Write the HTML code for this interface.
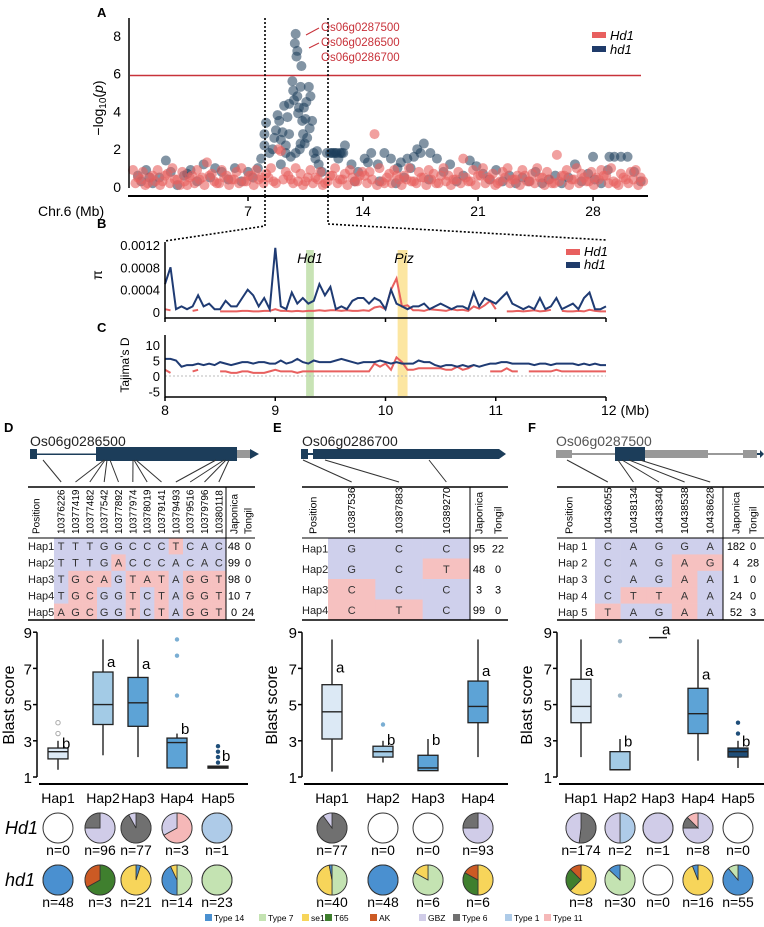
<!DOCTYPE html>
<html><head><meta charset="utf-8"><style>
html,body{margin:0;padding:0;background:#fff;}
svg{display:block;font-family:"Liberation Sans",sans-serif;}
</style></head><body>
<svg id="fig" width="764" height="927" viewBox="0 0 764 927" xmlns="http://www.w3.org/2000/svg"></svg>
<script>
// ---------- DATA ----------
const blueMb=[0.3,0.5,0.8,1.2,1.6,2.0,2.3,2.7,3.1,3.5,3.9,4.3,4.7,5.0,5.4,5.8,6.2,6.6,7.0,7.3,7.6,7.8,8.0,8.0,8.1,8.3,8.5,8.6,8.7,8.8,8.9,9.0,9.1,9.2,9.3,9.4,9.5,9.7,9.75,9.8,9.85,9.9,9.95,10.0,10.0,10.05,10.1,10.15,10.2,10.25,10.3,10.35,10.4,10.5,10.6,10.7,10.8,10.9,11.0,11.1,11.2,11.3,11.5,9.9,9.6,10.2,9.5,11.8,12.1,12.5,12.9,13.3,13.7,14.1,14.5,14.9,15.3,15.7,16.1,16.5,16.9,17.3,17.7,18.1,18.5,18.9,19.3,19.7,20.1,20.5,20.9,21.3,21.7,22.1,22.5,22.9,23.3,23.7,24.1,24.5,24.9,25.3,25.7,26.1,26.5,26.9,27.3,27.7,28.1,28.5,28.9,29.3,29.7,30.1,30.5,30.9,15.0,16.0,18.0,13.5,12.3,12.7,17.5,28.0,29.0,12.0,12.2,12.4,12.6,12.8,14.3,16.3,16.7,17.1,1.0,3.3,9.0,9.3,10.45,10.55,10.75];
const blueLogP=[0.6,0.3,0.9,0.2,0.5,1.4,0.8,0.1,0.6,0.9,0.3,1.2,0.5,1.0,0.8,0.4,1.0,0.3,0.8,0.5,1.0,1.5,2.2,2.8,3.4,1.8,2.0,2.6,3.0,3.8,3.5,2.5,2.9,4.3,1.8,3.7,4.4,5.6,5.1,4.6,7.6,8.1,6.9,7.2,4.8,3.9,4.2,2.0,5.3,6.4,3.5,2.8,4.2,3.6,2.6,5.3,4.8,3.5,1.8,1.5,1.9,1.2,0.8,1.8,1.6,2.3,2.8,1.8,1.8,1.5,2.2,1.2,0.8,1.5,1.8,1.2,1.8,1.5,1.0,0.5,1.0,2.0,2.3,1.8,1.5,0.8,1.2,0.3,0.6,1.4,1.1,0.7,0.4,0.9,0.3,0.6,0.2,0.5,0.3,0.8,0.2,0.4,0.6,0.2,0.5,1.2,0.3,0.7,0.4,0.2,0.9,1.6,1.6,1.6,0.8,0.3,0.3,0.2,0.4,0.3,1.8,1.8,1.8,1.6,1.6,1.8,1.8,1.8,1.8,1.8,1.3,1.3,1.5,1.6,0.5,0.7,1.2,2.2,2.3,4.5,3.1];
const redLogP1=[0.9,0.5,0.8,0.2,0.6,0.9,0.3,0.7,1.0,0.4,0.8,0.1,0.6,0.9,0.5,1.3,0.7,0.2,0.9,0.6,0.4,0.8,1.0,0.3,0.6,0.9,0.5,0.7,1.0,0.2,1.9,0.8,0.4,1.0,0.7,0.3,0.9,0.5,0.8,0.2,0.6,1.0,0.4,0.7,0.9,0.3,0.6,0.6,0.8,2.8,1.0,0.2,0.7,0.9,0.4,0.6,1.0,0.3,0.8,0.5,0.9,0.7,0.2,1.0,0.6,0.4,0.8,1.5,0.3,0.9,0.6,1.0,0.5,0.7,0.2,0.8,1.0,0.4,0.6,0.9,0.3,0.7,1.0,0.5,0.8,0.2,1.7,0.6,0.9,0.4,1.0,0.7,0.3,0.8,0.5,0.9,0.6,1.0,0.2,0.7,0.4,0.8,0.9,0.5];
const redLogP2=[0.2,0.4,0.1,0.5,0.3,0.1,0.6,0.2,0.4,0.1,0.3,0.5,0.2,0.4,0.1,0.6,0.3,0.2,0.5,0.1,0.4,0.2,0.3,0.6,0.1,0.4,0.2,0.5,0.3,2.0,0.4,0.6,0.2,0.3,0.1,0.5,0.2,0.4,0.1,0.3,0.6,0.2,0.4,0.1,0.5,0.3,0.8,0.2,0.4,0.1,0.3,0.5,0.2,0.6,0.1,0.4,0.3,0.2,0.5,0.1,0.4,0.2,0.6,0.3,0.1,0.4,0.2,0.5,0.3,0.1,0.6,0.2,0.4,0.1,0.3,0.5,0.2,0.4,0.1,0.6,0.3,0.2,0.5,0.1,0.4,0.2,0.3,0.6,0.1,0.4,0.2,0.5,0.3,0.1,0.4,0.6,0.2,0.3,0.1,0.5,0.2,0.4,0.1,0.3];
const aTicks=[7,14,21,28];
const aYTicks=[0,2,4,6,8];
const threshold=5.9;

const piBlue=[5,8,0.5,1,0.5,1,3,1,1.5,0.5,0.5,2,1,1,2.5,4,3,1,2.5,0.5,11.5,1,0.5,3.5,1.5,2.5,1.5,2,5,3,4.5,0.5,1,0.5,2,2.5,2.5,1.5,2.5,2,0.5,4,1.5,1,0.5,1,1,1.5,0.5,1,1.5,1,0.5,1,1,0.5,3.5,1,2.5,2,1.5,2.5,3.5,1.5,1,0.5,1,0.5,2.5,0.5,1,2.5,0.5,1,1.5,0.5,2.5,3.5,0.5,0.5,1];
const piRed=[0.5,0.3,null,0.4,null,0.2,0.4,null,null,null,0.1,0.1,0.1,0.1,0.2,0.2,0.1,0.1,0.2,0.2,0.5,0.2,0.2,0.1,0.2,0.1,0.2,0.2,0.3,0.2,0.3,0.3,0.2,0.3,0.2,0.2,0.3,0.2,0.8,1,0.5,4,6,1,1.2,0.3,0.3,0.2,0.5,0.4,0.3,0.2,0.5,0.3,0.4,0.2,1,0.6,1.2,2,0.5,null,0.1,0.1,0.2,0.1,0.2,0.3,0.1,0.2,0.4,null,0.2,0.1,0.1,0.2,0.1,0.4,0.2,0.1,0.1];
const tdBlue=[5.5,5.5,5,3,3.5,3.5,4,3.5,4,3.5,4.5,4,3.5,4,4.5,4.5,4,4.5,4.5,4,4,5,4,4.5,5.5,4.5,4,5,4.5,4.5,4.5,5,5.5,5,4.5,4,4.5,4.5,4.5,5,4.5,4,4.5,4,4,4,5,4.5,4.5,3.5,3,3.5,3.5,3,3.5,3,3.5,3,3.5,4,4,4.5,4.5,4,4,4,4,3.5,4,4,3.5,4,4,4,4,3.5,4,3.5,4,3.5,3.5];
const tdRed=[2,1,null,1.5,null,1.5,2,null,null,null,1.5,1.5,1,1,1.5,1.5,1,1,1,1.5,2,1.5,1.5,1.5,1,1.5,1.5,1.5,1.5,1.5,1.5,1.5,1.5,1.5,1.5,1.5,1.5,1.5,4,3,4,2,6,4.5,2,2,2.5,2.5,2.5,2.5,2.5,2,2,3,2,2.5,3.5,null,null,1.5,1.5,1.5,2.5,1.5,1.5,null,1.5,1.5,1.5,1.5,1.5,2,1.5,1.5,1.5,1.5,1.5,1.5,1.5,1.5,1.5];
const bxTicks=[8,9,10,11,12];
const piTicks=[0,0.0004,0.0008,0.0012];
const tdTicks=[-5,0,5,10];

const dPositions=['10376226','10377419','10377482','10377542','10377892','10377974','10378019','10379141','10379493','10379516','10379796','10380118'];
const dRef='TTTGGCCCACAC';
const dHaps=['TTTGGCCCTCAC','TTTGACCCACAC','TGCAGTATAGGT','TGCGGTCTAGGT','AGCGGTCTAGGT'];
const dJap=[48,99,98,10,0], dTon=[0,0,0,7,24];
const ePositions=['10387536','10387883','10389270'];
const eRef='GCC';
const eHaps=['GCC','GCT','CCC','CTC'];
const eJap=[95,48,3,99], eTon=[22,0,3,0];
const fPositions=['10436055','10438134','10438340','10438538','10438628'];
const fRef='CAGGA';
const fHaps=['CAGGA','CAGAG','CAGAA','CTTAA','TAGAA'];
const fJap=[182,4,1,24,52], fTon=[0,28,0,0,3];

const dQ1=[2.0,3.9,3.8,1.5,1.5], dMed=[2.4,5.0,5.1,2.9,1.55], dQ3=[2.6,6.8,6.5,3.15,1.6], dLo=[1.4,2.2,2.1,1.5,1.5], dHi=[3.0,8.6,8.6,3.4,1.6];
const dOut=[[3.4,4.0],[],[],[5.5,7.7,8.6],[1.8,2.1,2.4,2.7]];
const dLet=['b','a','a','b','b'], dLetV=[2.8,7.3,7.2,3.6,2.1];
const eQ1=[3.1,2.1,1.35,4.0], eMed=[4.6,2.4,1.5,4.9], eQ3=[6.1,2.7,2.2,6.3], eLo=[1.3,1.8,1.35,2.1], eHi=[8.6,3.0,3.1,8.6];
const eOut=[[],[3.9],[],[]];
const eLet=['a','b','b','a'], eLetV=[7.0,3.0,3.0,6.8];
const fQ1=[4.0,1.4,null,3.4,2.1], fMed=[4.9,1.4,null,4.5,2.4], fQ3=[6.4,2.4,null,5.9,2.6], fLo=[2.1,1.4,null,1.9,1.5], fHi=[8.6,3.1,null,8.6,3.0];
const fOut=[[],[5.5,8.5],[],[],[3.4,4.0]];
const fLet=['a','b','a','a','b'], fLetV=[6.8,2.9,9.1,6.6,2.9];
const blastTicks=[1,3,5,7,9];

const dHd1Pie=[[],[['GBZ',0.75],['Type 6',0.25]],[['Type 6',0.92],['GBZ',0.08]],[['Type 11',0.67],['GBZ',0.33]],[['Type 1',1]]];
const dhd1Pie=[[['Type 14',1]],[['T65',0.67],['AK',0.33]],[['Type 14',0.05],['se1',0.95]],[['Type 7',0.5],['Type 14',0.43],['se1',0.07]],[['Type 7',1]]];
const dHd1N=[0,96,77,3,1], dhd1N=[48,3,21,14,23];
const eHd1Pie=[[['Type 6',0.9],['GBZ',0.1]],[],[],[['GBZ',0.75],['Type 6',0.25]]];
const ehd1Pie=[[['Type 7',0.5],['se1',0.47],['Type 14',0.03]],[['Type 14',1]],[['Type 7',0.83],['se1',0.17]],[['se1',0.5],['T65',0.33],['AK',0.17]]];
const eHd1N=[77,0,0,93], ehd1N=[40,48,6,6];
const fHd1Pie=[[['Type 6',0.52],['GBZ',0.48]],[['Type 1',0.5],['GBZ',0.5]],[['GBZ',1]],[['GBZ',0.75],['Type 6',0.125],['Type 11',0.125]],[]];
const fhd1Pie=[[['se1',0.625],['T65',0.25],['AK',0.125]],[['Type 7',0.87],['Type 14',0.13]],[],[['se1',0.94],['Type 14',0.06]],[['Type 14',0.89],['Type 7',0.11]]];
const fHd1N=[174,2,1,8,0], fhd1N=[8,30,0,16,55];
const legendNames=['Type 14','Type 7','se1','T65','AK','GBZ','Type 6','Type 1','Type 11'];

// ---------- HELPERS ----------
const NS='http://www.w3.org/2000/svg';
const svg=document.getElementById('fig');
const COL={'Type 14':'#4a90d0','Type 7':'#c4e3b2','se1':'#f7d55a','T65':'#3f7f2e','AK':'#cc5a24','GBZ':'#d0cce8','Type 6':'#707070','Type 1':'#aecbe8','Type 11':'#f5b8b8'};
const RED='#e8605f', BLUE='#1f3b73', NAVY='#1c3d5a';
function mk(tag,attrs,parent){const e=document.createElementNS(NS,tag);for(const k in attrs)e.setAttribute(k,attrs[k]);(parent||svg).appendChild(e);return e;}
function tx(x,y,s,attrs,parent){const e=mk('text',Object.assign({x:x,y:y},attrs||{}),parent);e.textContent=s;return e;}
let el;

// ---------- PANEL A ----------
const xA=mb=>133+mb*16.43, yA=v=>187-v*18.9;
el=tx(97,17,'A',{'font-size':13,'font-weight':'bold'});


blueMb.forEach((m,i)=>{
  el=mk('circle',{cx:xA(m),cy:yA(blueLogP[i]),r:5,fill:NAVY,'fill-opacity':0.55});
  
  
});
redLogP1.forEach((v,i)=>{
  el=mk('circle',{cx:xA(i*0.3),cy:yA(v),r:5,fill:RED,'fill-opacity':0.6});
  
  
});
redLogP2.forEach((v,i)=>{
  el=mk('circle',{cx:xA(0.15+i*0.3),cy:yA(v),r:5,fill:RED,'fill-opacity':0.6});
  
  
});
el=mk('line',{x1:130,x2:641,y1:yA(threshold),y2:yA(threshold),stroke:'#c8323a','stroke-width':1.5});


el=mk('line',{x1:129,x2:129,y1:18,y2:188,stroke:'#000','stroke-width':1.5});


aYTicks.forEach(t=>{
  el=tx(121,yA(t)+5,String(t),{'font-size':14,'text-anchor':'end'});
  
  
});
el=tx(0,0,'',{'font-size':14,'text-anchor':'middle',transform:'translate(103,108) rotate(-90)'});
el.innerHTML='−log<tspan font-size="10" dy="3">10</tspan><tspan dy="-3">(</tspan><tspan font-style="italic">p</tspan>)';


el=mk('line',{x1:128,x2:648,y1:196,y2:196,stroke:'#000','stroke-width':2});


aTicks.forEach(t=>{
  el=mk('line',{x1:xA(t),x2:xA(t),y1:196,y2:201,stroke:'#000','stroke-width':1.5});
  
  
  el=tx(xA(t),216,String(t),{'font-size':14,'text-anchor':'middle'});
  
  
});
el=tx(38,216,'Chr.6 (Mb)',{'font-size':14});


[265,328].forEach(x=>{
  el=mk('line',{x1:x,x2:x,y1:18,y2:196,stroke:'#000','stroke-width':1.6,'stroke-dasharray':'2,2'});
  
  
});
[['Os06g0287500',31],['Os06g0286500',46],['Os06g0286700',61]].forEach(([g,y])=>{
  el=tx(321,y,g,{'font-size':11.5,fill:'#c8323a'});
  
  
});
el=mk('path',{d:'M319,28 L306,35 M319,43 L309,48',stroke:'#c8323a','stroke-width':1,fill:'none'});


[['Hd1',RED,36],['hd1','#1f3b6a',50]].forEach(([n,c,y])=>{
  el=mk('rect',{x:592,y:y-4,width:14,height:6,fill:c});
  
  
  el=tx(610,y+4,n,{'font-size':13,'font-style':'italic'});
  
  
});
el=mk('path',{d:'M265,196 L265,226 L165,241 M328,196 L328,224 L606,240',stroke:'#000','stroke-width':1.6,'stroke-dasharray':'2,2',fill:'none'});



// ---------- PANELS B/C ----------
const xB=mb=>165+(mb-8)*110.25;
const yPi=v=>312-v/0.0012*67;
const yTd=v=>376-v*3.1;
const posAt=(i,n)=>8+i*4/(n-1);
el=tx(97,228,'B',{'font-size':13,'font-weight':'bold'});


el=tx(97,332,'C',{'font-size':13,'font-weight':'bold'});


el=mk('rect',{x:xB(9.28),y:250,width:xB(9.35)-xB(9.28),height:146,fill:'#b5d99c','fill-opacity':0.75});


el=mk('rect',{x:xB(10.11),y:250,width:xB(10.2)-xB(10.11),height:146,fill:'#fbe08a','fill-opacity':0.8});


el=tx(310,263,'Hd1',{'font-size':14,'font-style':'italic','text-anchor':'middle'});


el=tx(404,263,'Piz',{'font-size':14,'font-style':'italic','text-anchor':'middle'});


function series(arr,fx,fy){let d='',pen=false;arr.forEach((v,i)=>{if(v===null){pen=false;return;}d+=(pen?'L':'M')+fx(posAt(i,arr.length)).toFixed(1)+','+fy(v).toFixed(1);pen=true;});return d;}
el=mk('line',{x1:165,x2:606,y1:yTd(0),y2:yTd(0),stroke:'#bbb','stroke-width':1,'stroke-dasharray':'2,2'});


el=mk('path',{d:series(piRed,xB,v=>yPi(v*0.0001)),stroke:RED,'stroke-width':2,fill:'none'});


el=mk('path',{d:series(piBlue,xB,v=>yPi(v*0.0001)),stroke:BLUE,'stroke-width':2,fill:'none'});


el=mk('path',{d:series(tdRed,xB,yTd),stroke:RED,'stroke-width':2,fill:'none'});


el=mk('path',{d:series(tdBlue,xB,yTd),stroke:BLUE,'stroke-width':2,fill:'none'});


el=mk('path',{d:'M165,242 L165,318 L606,318 M165,335 L165,397 L606,397',stroke:'#000','stroke-width':1.5,fill:'none'});


piTicks.forEach(t=>{
  el=tx(160,yPi(t)+5,t===0?'0':String(t),{'font-size':13,'text-anchor':'end'});
  
  
});
tdTicks.forEach(t=>{
  el=tx(160,yTd(t)+5,String(t),{'font-size':13,'text-anchor':'end'});
  
  
});
bxTicks.forEach(t=>{
  [318,397].forEach(y=>{
    el=mk('line',{x1:xB(t),x2:xB(t),y1:y,y2:y+4,stroke:'#000','stroke-width':1.5});
    
    
  });
  el=tx(xB(t),415,String(t)+(t===12?' (Mb)':''),{'font-size':14,'text-anchor':t===12?'start':'middle',dx:t===12?-5:0});
  
  
});
el=tx(0,0,'π',{'font-size':14,'text-anchor':'middle',transform:'translate(102,275) rotate(-90)'});


el=tx(0,0,"Tajima’s D",{'font-size':12,'text-anchor':'middle',transform:'translate(129,365) rotate(-90)'});


[['Hd1',RED,252],['hd1','#1f3b6a',265]].forEach(([n,c,y])=>{
  el=mk('rect',{x:566,y:y-3,width:14,height:6,fill:c});
  
  
  el=tx(584,y+4,n,{'font-size':13,'font-style':'italic'});
  
  
});

// ---------- D/E/F ----------
[['D',4],['E',273],['F',528]].forEach(([l,x])=>{
  el=tx(x,432,l,{'font-size':13,'font-weight':'bold'});
  
  
});
[['Os06g0286500',30],['Os06g0286700',302],['Os06g0287500',556]].forEach(([g,x],k)=>{
  el=tx(x,446,g,{'font-size':14,fill:k===2?'#555':'#222'});
  
  
});
el=mk('path',{d:'M30,449h7v10h-7z M37,453.5h59v1.5h-59z M96,447h141v14h-141z',fill:'#1c3d5a'});


el=mk('path',{d:'M237,450h13v8h-13z M250,452.5h2v3h-2z',fill:'#999'});


el=mk('path',{d:'M250,449 L259,454 L250,459z',fill:'#1c3d5a'});


el=mk('path',{d:'M301,449h7v10h-7z M308,453h5v2h-5z M313,449h186l7,5l-7,5h-186z',fill:'#1c3d5a'});


el=mk('path',{d:'M556,450h16v8h-16z M572,453h43v2h-43z M645,450h63v8h-63z M708,453h35v2h-35z M743,450h14v8h-14z',fill:'#999'});


el=mk('path',{d:'M615,447h30v14h-30z M757,453h4v2h-4z M760,450 L764,454 L760,458z',fill:'#1c3d5a'});



function table(cfg){
  const {positions,ref,haps,jap,ton,x0,x1,fx0,fx1,vline,rowTop,rowH,posX,japX,tonX,hapX,gx,hapLabels,hfs}=cfg;
  const n=positions.length, cw=(fx1-fx0)/n;
  const cx=i=>fx0+cw*(i+0.5);
  haps.forEach((h,r)=>{
    for(let i=0;i<n;i++){
      el=mk('rect',{x:fx0+cw*i,y:rowTop+r*rowH,width:cw+0.3,height:rowH+0.3,fill:h[i]===ref[i]?'#cfd0ec':'#f6c1c0'});
      
      
      el=tx(cx(i),rowTop+r*rowH+rowH/2+4,h[i],{'font-size':11,'text-anchor':'middle',fill:'#333'});
      
      
    }
    el=tx(hapX,rowTop+r*rowH+rowH/2+4,hapLabels[r],{'font-size':11,fill:'#222'});
    
    
    el=tx(japX,rowTop+r*rowH+rowH/2+4,String(jap[r]),{'font-size':11,'text-anchor':'middle'});
    
    
    el=tx(tonX,rowTop+r*rowH+rowH/2+4,String(ton[r]),{'font-size':11,'text-anchor':'middle'});
    
    
  });
  const bottom=rowTop+haps.length*rowH;
  el=mk('path',{d:`M${x0},487H${x1} M${x0},${bottom}H${x1}`,stroke:'#000','stroke-width':1.6});
  
  
  el=mk('path',{d:`M${x0},${rowTop}H${x1} M${vline},487V${bottom}`,stroke:'#000','stroke-width':1});
  
  
  const hdr=(x,s,nm)=>{el=tx(0,0,s,{'font-size':hfs,transform:`translate(${x+3.5},534) rotate(-90)`});};
  hdr(posX,'Position','position-header');
  positions.forEach((p,i)=>hdr(cx(i),p,'snp-position-header'));
  hdr(japX,'Japonica','japonica-header');
  hdr(tonX,'Tongil','tongil-header');
  positions.forEach((p,i)=>{
    el=mk('path',{d:`M${gx[i]},460 L${cx(i)},482`,stroke:'#333','stroke-width':1,fill:'none'});
    
    
  });
}
table({positions:dPositions,ref:dRef,haps:dHaps,jap:dJap,ton:dTon,x0:28,x1:255,fx0:54,fx1:226,vline:226,rowTop:538,rowH:16.4,posX:36,japX:234,tonX:248,hapX:28,gx:[43,104,105,107,110,133,134,136,216,224,226,229],hapLabels:['Hap1','Hap2','Hap3','Hap4','Hap5'],hfs:10});
table({positions:ePositions,ref:eRef,haps:eHaps,jap:eJap,ton:eTon,x0:302,x1:508,fx0:328,fx1:470,vline:470,rowTop:538,rowH:20.5,posX:313,japX:479,tonX:498,hapX:302,gx:[303,325,429],hapLabels:['Hap1','Hap2','Hap3','Hap4'],hfs:10.5});
table({positions:fPositions,ref:fRef,haps:fHaps,jap:fJap,ton:fTon,x0:557,x1:764,fx0:595,fx1:723,vline:723,rowTop:538,rowH:16.4,posX:569,japX:736,tonX:753,hapX:558,gx:[567,618,622,629,640],hapLabels:['Hap 1','Hap 2','Hap 3','Hap 4','Hap 5'],hfs:10.5});

// box plots
const yBl=v=>777-(v-1)*18.1;
const FILLS={L:'#dce9f5',M:'#a3cbe6',B:'#5da3d6',N:'#1f4e79'};
function boxPanel(cfg){
  const {ax,x1,xs,q1,med,q3,lo,hi,out,lets,letV,fills,outC,titleX}=cfg;
  el=mk('line',{x1:ax,x2:ax,y1:yBl(9),y2:yBl(1),stroke:'#000','stroke-width':1.5});
  
  
  blastTicks.forEach(t=>{
    el=mk('line',{x1:ax-4,x2:ax,y1:yBl(t),y2:yBl(t),stroke:'#000','stroke-width':1.5});
    
    
    el=tx(ax-5,yBl(t)+6,String(t),{'font-size':15,'text-anchor':'end'});
    
    
  });
  el=mk('line',{x1:ax+2,x2:x1,y1:784,y2:784,stroke:'#000','stroke-width':2});
  
  
  el=tx(0,0,'Blast score',{'font-size':16,'text-anchor':'middle',transform:`translate(${titleX},705) rotate(-90)`});
  
  
  xs.forEach((x,i)=>{
    el=tx(x,803,'Hap'+(i+1),{'font-size':14,'text-anchor':'middle'});
    
    
    if(q1[i]!==null){
      el=mk('line',{x1:x,x2:x,y1:yBl(hi[i]),y2:yBl(lo[i]),stroke:'#222','stroke-width':1.4});
      
      
      el=mk('rect',{x:x-10,y:yBl(q3[i]),width:20,height:Math.max(yBl(q1[i])-yBl(q3[i]),2),fill:FILLS[fills[i]],stroke:'#222','stroke-width':1.3});
      
      
      el=mk('line',{x1:x-10,x2:x+10,y1:yBl(med[i]),y2:yBl(med[i]),stroke:'#222','stroke-width':1.4});
      
      
    } else {
      el=mk('line',{x1:x-9,x2:x+9,y1:yBl(8.7),y2:yBl(8.7),stroke:'#222','stroke-width':1.4});
      
      
    }
    out[i].forEach(v=>{
      el=mk('circle',{cx:x,cy:yBl(v),r:2.2,fill:outC[i]==='none'?'#fff':outC[i],stroke:outC[i]==='none'?'#aaa':'none'});
      
      
    });
    el=tx(x+4,yBl(letV[i])+4,lets[i],{'font-size':15});
    
    
  });
}
boxPanel({ax:37,x1:248,xs:[58,103,138,177,218],q1:dQ1,med:dMed,q3:dQ3,lo:dLo,hi:dHi,out:dOut,lets:dLet,letV:dLetV,fills:['L','M','B','B','N'],outC:['none','#7aaed3','#7aaed3','#7aaed3','#1f4e79'],titleX:14});
boxPanel({ax:302,x1:508,xs:[332,383,428,478],q1:eQ1,med:eMed,q3:eQ3,lo:eLo,hi:eHi,out:eOut,lets:eLet,letV:eLetV,fills:['L','M','B','B'],outC:['#7aaed3','#7aaed3','#7aaed3','#7aaed3'],titleX:277});
boxPanel({ax:557,x1:764,xs:[581,620,658,698,738],q1:fQ1,med:fMed,q3:fQ3,lo:fLo,hi:fHi,out:fOut,lets:fLet,letV:fLetV,fills:['L','M','B','B','N'],outC:['#7aaed3','#a0b8c8','#7aaed3','#7aaed3','#1f4e79'],titleX:532});

// pies
function pie(cx,cy,slices){
  const R=15;
  el=mk('circle',{cx:cx,cy:cy,r:R,fill:'#fff',stroke:'#333','stroke-width':1});
  
  
  let a=0;
  slices.forEach(([k,f])=>{
    if(f>=0.999){
      el=mk('circle',{cx:cx,cy:cy,r:R,fill:COL[k],stroke:'#333','stroke-width':1});
    } else {
      const a0=a*2*Math.PI, a1=(a+f)*2*Math.PI;
      const p0=[cx+R*Math.sin(a0),cy-R*Math.cos(a0)], p1=[cx+R*Math.sin(a1),cy-R*Math.cos(a1)];
      el=mk('path',{d:`M${cx},${cy}L${p0[0]},${p0[1]}A${R},${R} 0 ${f>0.5?1:0} 1 ${p1[0]},${p1[1]}Z`,fill:COL[k],stroke:'#333','stroke-width':0.8});
    }
    
    
    a+=f;
  });
}
function pieRow(xs,pies,ns,cy){
  xs.forEach((x,i)=>{
    pie(x,cy,pies[i]);
    el=tx(x,cy+27,'n='+ns[i],{'font-size':14,'text-anchor':'middle'});
    
    
  });
}
pieRow([58,100,136,177,217],dHd1Pie,dHd1N,828);
pieRow([58,100,136,177,217],dhd1Pie,dhd1N,880);
pieRow([332,383,428,478],eHd1Pie,eHd1N,828);
pieRow([332,383,428,478],ehd1Pie,ehd1N,880);
pieRow([581,620,658,698,738],fHd1Pie,fHd1N,828);
pieRow([581,620,658,698,738],fhd1Pie,fhd1N,880);
el=tx(5,834,'Hd1',{'font-size':18,'font-style':'italic'});


el=tx(5,886,'hd1',{'font-size':18,'font-style':'italic'});



// legend
const legX=[205,259,302,325,370,419,453,505,544];
legendNames.forEach((n,i)=>{
  el=mk('rect',{x:legX[i],y:914,width:7,height:7,fill:COL[n]});
  
  
  el=tx(legX[i]+9,921,n,{'font-size':8.5});
  
  
});
</script>
</body></html>
